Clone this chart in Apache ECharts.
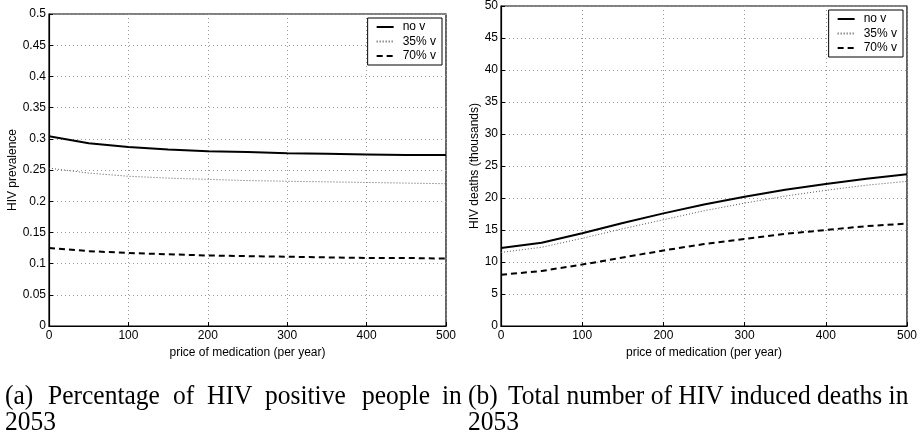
<!DOCTYPE html>
<html><head><meta charset="utf-8">
<script src="https://cdn.jsdelivr.net/npm/echarts@6/dist/echarts.min.js"></script>
<style>html,body{margin:0;padding:0;background:#fff}#c{width:920px;height:434px}</style>
</head><body><div id="c"></div>
<script>
const prices = [0, 50, 100, 150, 200, 250, 300, 350, 400, 450, 500];
const seriesNames = ['no v', '35% v', '70% v'];
// (a) HIV prevalence in 2053
const prevNoV  = [0.304, 0.293, 0.287, 0.283, 0.280, 0.279, 0.277, 0.276, 0.275, 0.274, 0.274];
const prev35   = [0.253, 0.245, 0.240, 0.237, 0.235, 0.233, 0.232, 0.231, 0.230, 0.229, 0.228];
const prev70   = [0.125, 0.120, 0.117, 0.115, 0.113, 0.112, 0.111, 0.110, 0.109, 0.109, 0.108];
// (b) HIV deaths (thousands) in 2053
const deathNoV = [12.2, 13.0, 14.5, 16.1, 17.6, 19.0, 20.2, 21.3, 22.2, 23.0, 23.7];
const death35  = [11.5, 12.3, 13.7, 15.2, 16.6, 18.0, 19.2, 20.3, 21.2, 22.0, 22.6];
const death70  = [8.0, 8.6, 9.6, 10.7, 11.8, 12.8, 13.6, 14.4, 15.0, 15.6, 16.0];
const xTitle = 'price of medication (per year)';
const yTitleA = 'HIV prevalence';
const yTitleB = 'HIV deaths (thousands)';
const captionA = ['(a)', 'Percentage', 'of', 'HIV', 'positive', 'people', 'in'];
const captionB = ['(b)', 'Total number of HIV induced deaths in'];
const captionYear = '2053';

const sans = 'Liberation Sans, Arial, Helvetica, sans-serif';
const serif = 'Liberation Serif, Times New Roman, serif';
const styles = [
  {color: '#000', width: 2, type: 'solid'},
  {color: '#555', width: 1, type: [1, 2]},
  {color: '#000', width: 2, type: [6, 4]}
];
function pairs(ys){ return prices.map((x,i)=>[x, ys[i]]); }
function mkSeries(vals, idx){
  return vals.map((v,k)=>({
    name: seriesNames[k], type: 'line', xAxisIndex: idx, yAxisIndex: idx,
    data: pairs(v), showSymbol: false, symbol: 'none', animation: false,
    lineStyle: styles[k], itemStyle: {color: styles[k].color}
  }));
}
const grid = [
  {left: 49, right: 474, top: 14, bottom: 108, show: true, borderColor: '#000', borderWidth: 1.2},
  {left: 501, right: 13, top: 6, bottom: 108, show: true, borderColor: '#000', borderWidth: 1.2}
];
function xAxis(idx){
  return {type: 'value', gridIndex: idx, min: 0, max: 500, interval: 100,
    name: xTitle, nameLocation: 'middle', nameGap: 20,
    nameTextStyle: {fontFamily: sans, fontSize: 12, color: '#000'},
    axisLine: {lineStyle: {color: '#000', width: 1.2}},
    axisTick: {inside: true, length: 4, lineStyle: {color: '#000'}},
    axisLabel: {fontFamily: sans, fontSize: 12, color: '#000', margin: 4},
    splitLine: {show: true, lineStyle: {color: '#999', type: [1, 3], width: 1}}};
}
const yAxis = [
  {type: 'value', gridIndex: 0, min: 0, max: 0.5, interval: 0.05,
    name: yTitleA, nameLocation: 'middle', nameGap: 28, nameRotate: 90,
    nameTextStyle: {fontFamily: sans, fontSize: 12, color: '#000'},
    axisLine: {show: true, lineStyle: {color: '#000', width: 1.2}},
    axisTick: {show: true, inside: true, length: 4, lineStyle: {color: '#000'}},
    axisLabel: {fontFamily: sans, fontSize: 12, color: '#000', margin: 3},
    splitLine: {show: true, lineStyle: {color: '#999', type: [1, 3], width: 1}}},
  {type: 'value', gridIndex: 1, min: 0, max: 50, interval: 5,
    name: yTitleB, nameLocation: 'middle', nameGap: 20, nameRotate: 90,
    nameTextStyle: {fontFamily: sans, fontSize: 12, color: '#000'},
    axisLine: {show: true, lineStyle: {color: '#000', width: 1.2}},
    axisTick: {show: true, inside: true, length: 4, lineStyle: {color: '#000'}},
    axisLabel: {fontFamily: sans, fontSize: 12, color: '#000', margin: 3},
    splitLine: {show: true, lineStyle: {color: '#999', type: [1, 3], width: 1}}}
];
const legendBase = {
  orient: 'vertical', data: seriesNames, backgroundColor: '#fff',
  borderColor: '#000', borderWidth: 1, borderRadius: 0,
  itemWidth: 17, itemHeight: 12, itemGap: 2.5, padding: [3, 6, 3, 8],
  itemStyle: {opacity: 0},
  textStyle: {fontFamily: sans, fontSize: 12, color: '#000', padding: [0, 0, 0, 4]},
  selectedMode: false
};
// caption word positions (layout only)
const capAX = [5, 48, 173, 207, 265, 362, 442];
const capBX = [468, 508];
const capFont = '25.5px ' + serif;
const graphics = [];
function capText(t, x, y){
  return {type:'text', left: x, top: y, scaleY: 1.05, style:{text: t, font: capFont, fill:'#000'}};
}
captionA.forEach((w,i)=>graphics.push(capText(w, capAX[i], 383)));
captionB.forEach((w,i)=>graphics.push(capText(w, capBX[i], 383)));
graphics.push(capText(captionYear, 5, 409));
graphics.push(capText(captionYear, 468, 409));

const chart = echarts.init(document.getElementById('c'), null, {renderer: 'canvas'});
chart.setOption({
  animation: false,
  backgroundColor: '#fff',
  grid: grid,
  xAxis: [xAxis(0), xAxis(1)],
  yAxis: yAxis,
  legend: [
    Object.assign({}, legendBase, {right: 478, top: 18}),
    Object.assign({}, legendBase, {right: 17, top: 10})
  ],
  series: mkSeries([prevNoV, prev35, prev70], 0).concat(mkSeries([deathNoV, death35, death70], 1)),
  graphic: graphics
});
</script></body></html>
